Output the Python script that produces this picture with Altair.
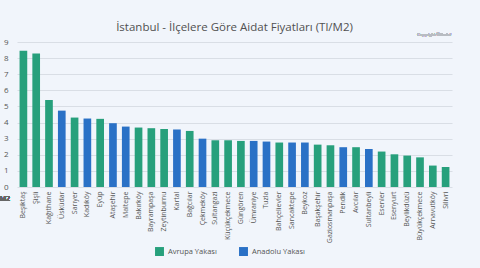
import altair as alt
import pandas as pd

districts = ["Beşiktaş", "Şişli", "Kağıthane", "Üsküdar", "Sarıyer", "Kadıköy", "Eyüp",
             "Ataşehir", "Maltepe", "Bakırköy", "Bayrampaşa", "Zeytinburnu", "Kartal",
             "Bağcılar", "Çekmeköy", "Sultangazi", "Küçükçekmece", "Güngören", "Ümraniye",
             "Tuzla", "Bahçelievler", "Sancaktepe", "Beykoz", "Başakşehir", "Gaziosmanpaşa",
             "Pendik", "Avcılar", "Sultanbeyli", "Esenler", "Esenyurt", "Beylikdüzü",
             "Büyükçekmece", "Arnavutköy", "Silivri"]
values = [8.45, 8.29, 5.4, 4.74, 4.31, 4.25, 4.23, 3.96, 3.75, 3.69, 3.65, 3.6, 3.57,
          3.48, 3.0, 2.9, 2.9, 2.86, 2.86, 2.82, 2.76, 2.76, 2.76, 2.63, 2.59, 2.47,
          2.47, 2.36, 2.2, 2.03, 1.95, 1.84, 1.33, 1.24]
A, E = "Avrupa Yakası", "Anadolu Yakası"
sides = [A, A, A, E, A, E, A, E, E, A, A, A, E, A, E, A, A, A, E, E, A, E, E, A, A,
         E, A, E, A, A, A, A, A, A]

df = pd.DataFrame({"ilce": districts, "aidat": values, "yaka": sides})

FONT = "Open Sans"
W, H = 435, 145

bars = alt.Chart(df).mark_bar().encode(
    x=alt.X("ilce:N", sort=None, title=None,
            scale=alt.Scale(paddingInner=0.4, paddingOuter=0.2),
            axis=alt.Axis(labelAngle=270, labelFontSize=7, labelColor="#555555",
                          labelFont=FONT, domain=False, ticks=False, labelPadding=4,
                          labelOverlap=False)),
    y=alt.Y("aidat:Q", title=None,
            scale=alt.Scale(domain=[0, 9], nice=False),
            axis=alt.Axis(values=list(range(10)), labelFontSize=8, labelColor="#555555",
                          labelFont=FONT, domain=False, ticks=False, labelPadding=9,
                          gridColor="#d9dee5", gridWidth=1.2)),
    color=alt.Color("yaka:N", title=None,
                    scale=alt.Scale(domain=[A, E], range=["#27a07c", "#2a71c6"]),
                    legend=alt.Legend(orient="none", legendX=138, legendY=205,
                                      direction="horizontal", symbolType="square",
                                      symbolSize=80, symbolStrokeWidth=0,
                                      labelFontSize=7.5, labelColor="#555555",
                                      labelFont=FONT, columnPadding=22, symbolOpacity=1)),
)

copy = alt.Chart(df).mark_text(fontSize=4, color="#b8bcc2", align="right",
                               font=FONT).encode(
    x=alt.value(W - 1), y=alt.value(-7), text=alt.value("Copyright ©Hedef"))

m2 = alt.Chart(df).mark_text(fontSize=7, color="#666666", align="right",
                             font=FONT).encode(
    x=alt.value(-7), y=alt.value(H + 12), text=alt.value("M2"))

chart = alt.layer(bars, copy, m2).properties(
    width=W, height=H,
    title=alt.TitleParams("İstanbul - İlçelere Göre Aidat Fiyatları (Tl/M2)",
                          fontSize=11.5, font=FONT, color="#505050", fontWeight="normal",
                          offset=0, anchor="middle"),
    autosize=alt.AutoSizeParams(type="none"),
    padding={"left": 17, "top": 42, "right": 28, "bottom": 81},
).configure(background="#f1f5fb").configure_view(stroke=None)

chart.save("out.html", embed_options={"renderer": "svg", "actions": False})
